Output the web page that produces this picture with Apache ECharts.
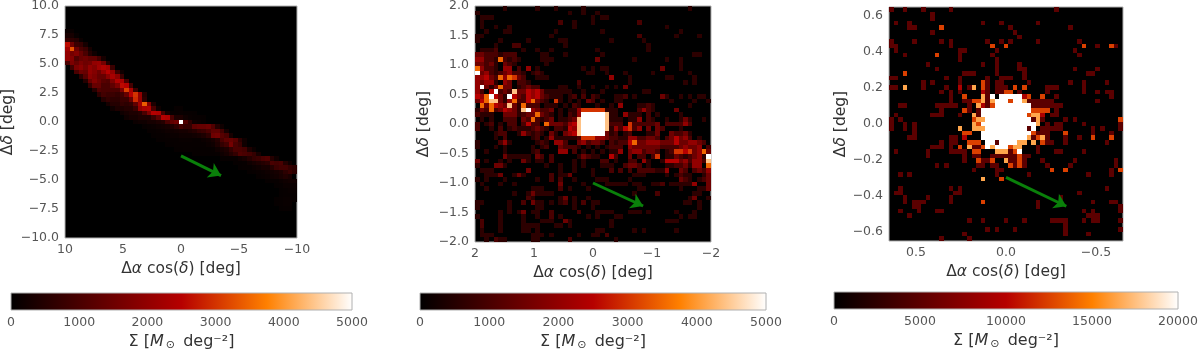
<!DOCTYPE html>
<html>
<head>
<meta charset="utf-8">
<title>Stream surface density</title>
<script src="https://cdn.jsdelivr.net/npm/echarts@6/dist/echarts.min.js"></script>
<style>
html,body{margin:0;padding:0;background:#fff;}
#main{width:1200px;height:351px;}
</style>
</head>
<body>
<div id="main"></div>
<script>
var heatColors = ['#000000','#5b0000','#b60000','#ff8000','#ffffff'];

var binCount = 51;
var spans = [10, 2, 0.65];
var maxValues = [5000, 5000, 20000];

var xTicks1 = [10, 5, 0, -5, -10];
var yTicks1 = [-10, -7.5, -5, -2.5, 0, 2.5, 5, 7.5, 10];
var xTicks2 = [2, 1, 0, -1, -2];
var yTicks2 = [-2, -1.5, -1, -0.5, 0, 0.5, 1, 1.5, 2];
var xTicks3 = [0.5, 0, -0.5];
var yTicks3 = [-0.6, -0.4, -0.2, 0, 0.2, 0.4, 0.6];

var arrow1 = [[0, -2.92], [-3.45, -4.62]];
var arrow2 = [[0, -1], [-0.85, -1.39]];
var arrow3 = [[0, -0.297], [-0.335, -0.457]];

// [row, first column, values along the row...]
var stream1 = [
	[5,0,150,120],
	[6,0,350,300,100],
	[7,0,700,600,500,150],
	[8,0,2600,1500,800,700,300],
	[9,0,2200,3300,1500,1000,800,300],
	[10,0,2000,1600,1800,1400,1000,500,200],
	[11,0,2000,1800,1100,1400,1500,1300,1300,900,300],
	[12,0,1000,1700,1400,1700,1500,1600,2000,2100,1600,500],
	[13,1,900,1700,1900,1600,2000,1800,2200,2400,2200,800],
	[14,2,1000,1500,1400,2000,1800,1500,2000,2500,2000,800,200],
	[15,3,600,1200,1900,1700,1400,1400,1900,2300,1900,800],
	[16,4,500,1400,1800,1500,1200,1100,1700,2400,2300,1000],
	[17,5,700,1400,1400,1000,1000,1300,1700,2600,2500,900],
	[18,6,500,1100,1000,1000,1000,1000,1700,3100,2300,800],
	[19,7,600,900,800,800,700,900,1400,2500,3000,2000,500],
	[20,8,500,700,600,600,800,800,1400,2900,2000,600],
	[21,9,300,500,500,700,600,700,1300,2200,3400,1800,400],
	[22,10,200,400,400,500,500,800,2000,2300,2400,1000,200,0,0,0,100,100],
	[23,12,200,300,400,400,500,1000,1700,2500,2400,1000,300,100,100,120,100,100,80],
	[24,13,200,300,300,400,400,400,800,1300,2500,2400,1000,400,400,200,120,100,100,80],
	[25,15,150,200,200,300,300,400,500,1000,1300,1500,5000,1100,600,200,150,100],
	[26,17,100,120,150,200,250,300,400,600,900,700,700,1300,1400,1400,1500,1100,500,200],
	[27,18,100,100,120,150,200,200,250,300,300,400,500,700,800,1000,1300,1300,900,300],
	[28,19,80,100,100,120,150,150,200,200,200,250,300,400,600,1500,1600,1200,1000,300],
	[29,20,80,80,100,100,100,120,120,120,100,100,150,200,300,500,1000,1300,1400,1200,600,200],
	[30,22,80,80,100,100,100,100,100,100,100,150,200,400,700,900,1600,1000,800,200],
	[31,24,80,80,100,100,80,80,80,80,100,200,300,400,700,1000,1000,900,400,150],
	[32,28,80,80,80,80,80,100,200,300,500,700,1100,1000,900,700,300],
	[33,34,100,100,100,100,200,300,500,700,800,1000,1100,500,200],
	[34,37,80,80,100,200,300,400,500,600,1000,900,1000,500,200],
	[35,38,80,100,100,150,200,300,300,500,800,900,900,700,600],
	[36,40,80,100,120,150,200,250,300,400,600,800,600],
	[37,42,100,120,150,200,250,350,450,350],
	[38,44,80,100,100,150,200,250,250],
	[39,46,80,100,150,150,150],
	[40,47,80,100,120,120],
	[41,47,80,100,100,100],
	[42,46,80,100,120,120,100],
	[43,46,80,100,130,120],
	[44,47,80,100,100]
];

// panel 2, one list per row: column, level, column, level...
var levels2 = [0, 600, 1000, 1500, 2000, 2500, 3000, 3500, 4400, 4500, 5000];
var rows2 = [
	[6,1,13,1,17,1,23,1,46,1],
	[0,1,20,1,23,1,26,1],
	[1,1,2,1,3,1,25,1,27,1,28,1],
	[1,1,18,2,21,1,25,1,35,2],
	[1,1,4,1,7,1,21,1,41,1],
	[2,1,6,1,7,1,17,1,27,1,44,1],
	[0,1,1,1,16,1,35,2,43,1,48,1],
	[0,1,5,1,11,1,18,1,19,1,29,1,36,1],
	[4,1,8,2,9,2,19,1,37,1],
	[1,1,2,1,3,1,4,2,10,1,13,1,16,1,26,1,37,1],
	[0,3,1,3,2,2,3,2,4,2,5,1,6,2,7,2,8,2,14,1,15,1,19,1,27,1,47,1,48,1],
	[0,4,1,4,2,2,3,2,4,1,5,7,6,2,7,1,8,2,9,1,14,1,15,1,16,1,26,3,34,1,41,1,44,1],
	[0,3,1,3,2,2,3,3,4,1,6,3,7,2,8,1,15,1,44,1],
	[0,7,1,4,2,2,3,2,4,1,6,4,7,4,9,2,11,4,13,1,23,1,25,1,27,1,28,1,40,3,44,1],
	[0,10,1,3,2,4,3,2,4,1,5,2,6,3,7,4,8,2,9,2,10,1,12,1,13,2,14,1,24,1,25,1,28,1,32,1,38,1,46,1],
	[0,4,1,4,2,5,3,3,4,2,5,7,6,4,7,7,8,6,9,3,10,2,13,1,14,1,15,1,29,4,33,1,41,1,42,1,47,1],
	[0,4,1,3,2,4,3,4,4,1,6,4,7,3,9,2,10,2,11,1,22,2,33,1,45,1,47,1],
	[0,4,1,10,2,3,3,1,4,3,5,7,6,3,7,3,9,1,10,2,11,3,12,2,13,2,18,1,19,1,22,1,25,1,28,1,30,1,32,3],
	[0,4,1,2,3,5,4,10,5,2,6,3,7,2,8,8,9,3,10,3,11,5,12,4,13,5,14,3,15,1,16,1,17,1,18,1,19,1,20,1,23,1,27,1,36,1,37,1],
	[0,5,1,4,2,7,3,10,4,5,5,3,6,1,7,10,8,5,9,3,10,2,11,5,12,4,13,5,14,3,15,2,16,1,17,1,18,1,20,1,21,2,23,2,25,2,26,1,30,1,31,1,32,2,34,1,40,3,41,1,44,1,46,1,48,1,49,1],
	[0,3,1,5,2,7,3,8,4,8,5,3,6,1,7,4,8,7,9,2,10,2,11,5,12,7,13,3,14,2,15,1,17,6,18,1,20,1,22,1,24,3,25,2,27,1,30,1,31,1,42,1,47,1,50,1],
	[1,7,2,3,3,7,4,5,5,4,6,3,7,8,8,3,9,1,10,7,11,2,12,2,13,2,15,1,16,1,17,1,19,1,21,2,22,1,26,1,29,1,31,4,35,1,36,1,37,2,38,1,46,1],
	[0,1,1,3,2,2,3,7,4,2,5,3,6,5,7,4,8,3,9,1,10,8,11,10,12,4,13,3,14,2,15,2,16,3,18,1,20,1,21,1,22,4,23,6,24,6,25,6,26,6,27,6,28,1,29,1,30,1,35,2,36,4,37,2,38,1,43,3],
	[0,2,1,1,2,1,3,1,6,3,7,3,8,3,9,1,10,2,11,3,12,3,13,7,14,3,15,2,16,1,18,1,20,2,21,1,22,4,23,10,24,10,25,10,26,10,27,10,28,8,29,1,30,1,32,4,33,1,34,1,35,1,37,2,39,1,44,1],
	[1,1,3,1,6,2,7,2,8,2,10,3,11,2,12,7,13,2,14,1,15,2,16,3,18,1,19,1,20,2,21,3,22,8,23,10,24,10,25,10,26,10,27,10,28,8,29,1,30,1,31,1,33,1,34,1,35,4,37,2,38,1,41,1,44,1,45,3,46,1,49,1],
	[0,2,2,1,3,2,5,1,7,2,8,2,10,2,11,5,12,2,13,2,15,7,16,3,17,3,18,3,19,2,20,4,21,5,22,8,23,10,24,10,25,10,26,10,27,10,28,8,29,2,30,2,31,2,33,6,34,2,35,2,36,2,37,2,38,2,39,3,41,2,42,2,43,2,44,2,45,4,46,2],
	[0,2,3,1,5,2,7,1,8,2,9,1,10,1,11,1,12,2,13,3,14,2,15,1,17,2,18,2,19,1,20,5,21,4,22,8,23,10,24,10,25,10,26,10,27,10,28,8,29,1,30,4,31,2,32,5,33,6,34,2,35,4,37,3,39,3,40,2,44,1],
	[4,1,5,2,6,2,9,1,10,4,11,2,12,1,13,2,14,1,16,3,17,1,19,3,20,4,21,5,22,8,23,10,24,10,25,10,26,10,27,10,28,3,29,1,30,2,32,1,33,2,37,1,38,1,39,3,42,3,43,2,44,2,45,3,46,1],
	[4,1,6,2,12,1,13,2,15,1,16,4,17,1,18,1,19,1,20,1,21,1,22,2,23,6,24,6,25,6,26,4,27,4,28,3,29,2,30,2,31,1,32,1,33,4,34,4,35,2,36,2,37,3,38,3,39,2,41,2,42,3,43,5,44,3,45,4,46,2,48,1],
	[0,1,5,2,6,4,7,1,13,1,14,2,15,1,17,4,18,4,19,2,22,3,23,4,24,2,25,3,26,3,27,2,29,2,30,1,31,2,32,2,33,5,34,7,35,3,36,3,37,4,38,4,39,4,40,3,41,3,42,3,43,5,44,3,45,3,46,4,47,4,48,3,49,2],
	[0,1,4,1,6,1,12,1,14,1,15,2,18,3,19,2,20,2,21,2,22,1,24,1,26,1,28,1,29,2,30,2,31,2,33,4,34,3,35,3,36,3,37,3,38,3,39,3,40,2,41,2,42,2,43,2,44,3,45,4,46,3,47,3,48,4,50,2],
	[2,1,6,1,12,1,13,2,18,4,19,4,21,2,23,1,25,1,27,1,29,1,30,1,31,4,33,3,34,4,35,4,36,2,37,3,38,3,39,2,41,1,42,2,43,6,44,6,45,5,46,6,47,3,48,4,49,7,50,3],
	[6,3,7,1,8,1,9,1,10,1,11,1,13,3,14,2,16,2,22,1,23,3,24,2,25,1,26,1,29,5,30,2,33,3,35,2,36,2,38,2,39,6,41,1,42,1,43,3,44,2,45,1,46,2,47,3,48,4,49,1,50,10],
	[0,3,2,1,5,1,7,1,10,3,11,1,13,1,14,1,16,2,21,1,23,1,27,2,28,2,30,1,33,2,34,2,36,4,37,1,40,1,41,5,42,5,43,5,44,3,45,4,46,2,47,4,48,4,49,2,50,8],
	[0,1,4,3,5,3,6,1,15,1,18,1,21,1,23,1,27,1,28,1,29,1,32,2,33,3,34,3,35,2,37,1,41,1,42,1,43,2,44,2,45,3,46,1,47,4,48,4,50,7],
	[1,1,2,1,3,1,11,3,18,1,21,1,25,1,29,2,31,2,33,2,35,2,36,2,37,2,38,2,39,1,40,1,41,4,44,3,45,2,47,2,48,3,49,2,50,4],
	[2,1,3,1,4,1,5,3,8,1,9,3,10,1,16,2,18,1,19,1,20,3,25,1,34,1,35,1,36,1,41,1,43,1,44,2,45,1,46,1,49,1,50,3],
	[0,1,2,1,6,1,13,1,16,2,18,2,21,1,26,1,27,1,28,1,33,1,44,3,45,2,46,1,48,1,49,2,50,3],
	[1,1,5,1,8,1,18,3,23,1,28,1,29,1,30,1,31,1,32,1,34,1,35,1,38,1,39,1,40,2,42,1,43,1,44,1,45,1,46,1,47,4,50,3],
	[2,1,12,1,13,1,14,1,18,2,20,1,24,1,35,1,36,1,44,1,48,1,49,1,50,3],
	[8,1,11,1,12,3,13,1,14,1,15,1,16,1,34,1,39,2,47,1,48,1],
	[11,2,12,1,18,1,19,3,21,1,24,1,46,1,47,3,50,1],
	[0,1,1,1,7,1,10,2,12,3,13,1,14,1,16,1,18,1,19,2,21,1,23,2,25,1,26,1,45,1,46,1,48,1],
	[0,1,7,1,13,1,14,1,21,1,25,1,48,1],
	[5,1,7,1,9,1,10,3,12,1,13,1,16,2,22,2,26,1,27,1,28,1,29,1,33,1,34,1,35,1,37,1,43,1,47,1],
	[0,1,5,1,10,1,13,1,16,2,18,1,24,1,26,1,30,1,31,1,44,1,46,1,47,1],
	[1,2,5,1,10,1,14,1,15,1,16,1,19,3,20,1,29,1,41,1,42,1,43,1],
	[1,2,5,1,10,1,11,1,12,1,13,1,17,1,18,1,20,1,29,1],
	[1,1,5,1,10,1,11,1,13,1,26,1,27,1,34,1,36,1,43,1],
	[1,1,2,1,3,1,12,1,13,1,14,1,16,1,22,1,25,1,26,1,28,2],
	[2,1,4,2,5,1,6,1,12,1,13,1,20,2,30,1]
];

// panel 3, same layout, levels run from one dark cell up to the white core
var levels3 = [0, 5000, 9500, 12500, 16500, 20000];
var rows3 = [
	[0,1,3,1,7,1,13,1,36,1],
	[9,1],
	[9,1],
	[1,1,4,1,20,1,24,1,32,1],
	[4,1,5,1,11,3,26,1,39,1],
	[9,1,27,1],
	[28,1],
	[0,1,5,1,11,1,13,1,21,1,24,1,26,1,32,1,41,1],
	[0,1,1,1,13,1,22,3,25,3,42,3,45,1,48,3,49,1],
	[1,1,15,1,16,1,23,1,40,1],
	[3,1,10,3,15,1,22,1,41,1],
	[15,1,23,1],
	[8,1,20,1,23,1,28,1],
	[10,1,23,1,28,1,29,1,40,1,45,1],
	[3,3,16,1,17,1,18,1,23,1,29,1,43,1,44,1],
	[0,1,1,1,12,1,15,1,21,1,24,1,25,1,26,1,29,1],
	[7,1,9,1,15,1,20,3,21,1,23,1,24,1,30,1,39,1,42,1,47,1],
	[0,1,1,1,3,4,7,1,12,1,15,2,17,1,18,4,20,3,21,1,23,1,24,1,25,1,27,3,29,3,34,1,35,1,36,1,42,1],
	[11,1,13,1,15,1,20,2,21,1,23,1,24,1,25,3,26,3,28,1,34,1,42,1,45,1,47,1,48,1],
	[13,1,16,3,20,4,21,1,22,5,24,5,25,5,26,5,27,5,28,5,29,2,30,3,33,3,36,1,48,1],
	[13,1,16,1,17,1,18,3,19,3,20,4,21,1,22,4,23,5,24,5,25,5,26,3,27,5,28,5,29,4,30,1,31,1,32,1,33,1,34,1,35,1,45,1],
	[2,1,3,1,10,1,11,1,12,1,13,1,14,1,17,1,19,4,20,2,21,1,22,3,23,5,24,5,25,5,26,5,27,5,28,5,29,5,30,5,31,1,32,1,33,1,34,1,35,1,36,1,37,1],
	[11,1,16,3,17,1,19,1,20,5,21,5,22,5,23,5,24,5,25,5,26,5,27,5,28,5,29,5,30,5,31,3,32,3,33,3,34,3,36,1],
	[1,1,9,1,10,1,11,1,15,1,18,4,19,1,20,5,21,5,22,5,23,5,24,5,25,5,26,5,27,5,28,5,29,5,30,3,31,4,32,4,33,2,35,1,36,1],
	[0,1,2,1,18,3,19,4,20,4,21,5,22,5,23,5,24,5,25,5,26,5,27,5,28,5,29,5,30,5,31,1,32,4,33,1,38,1,40,1,50,3],
	[0,1,3,1,5,1,18,4,19,3,20,5,21,5,22,5,23,5,24,5,25,5,26,5,27,5,28,5,29,5,30,5,31,5,32,4,34,1,36,1,37,1,42,1,50,1],
	[0,1,3,1,5,1,15,4,18,4,19,4,20,4,21,5,22,5,23,5,24,5,25,5,26,5,27,5,28,5,29,5,30,1,31,5,33,1,34,1,35,1,36,1,37,1,44,1,46,1,50,1],
	[5,1,16,3,17,3,20,5,21,5,22,5,23,5,24,5,25,5,26,5,27,5,28,5,29,5,30,5,31,3,32,1,33,1,34,1,38,3,44,1,48,1],
	[4,1,5,1,13,1,14,1,16,2,20,5,21,5,22,5,23,5,24,5,25,5,26,5,27,5,28,5,29,5,30,4,31,1,32,3,33,4,34,1,38,1,41,1,44,3,48,3],
	[11,1,13,1,14,1,17,3,18,3,19,3,21,5,22,5,23,1,24,5,25,5,26,5,27,5,28,4,29,4,31,4,33,3,34,1,35,1,38,1,47,1],
	[9,1,10,1,11,1,13,1,15,3,17,4,18,1,19,1,20,3,21,5,22,4,23,5,24,5,25,5,26,3,27,4,28,4,32,1],
	[1,1,8,1,13,1,14,1,15,1,16,1,18,3,19,3,23,4,24,4,25,4,26,1,27,3,28,5,32,1,36,1,37,1,42,1],
	[8,1,16,1,18,1,19,1,22,1,23,1,24,1,25,1,26,1,27,1,28,3,29,1,30,1],
	[16,1,19,3,20,1,21,1,22,3,25,4,26,1,27,1,28,3,29,1,33,1,40,1,49,1],
	[10,1,12,1,19,1,20,1,22,1,23,1,26,3,27,1,28,3,29,1,34,1,39,1,49,1],
	[18,1,23,1,24,1,35,3,38,3,48,1,50,3],
	[2,1,4,1,23,1,30,1,43,1,48,1],
	[20,4,24,3],
	[],
	[2,1,13,1,15,1,47,1],
	[1,1,2,1,14,1,15,1,41,1],
	[3,1,8,1,13,1,37,1],
	[3,1,5,1,6,1,7,1,13,1,20,3,32,1,44,1,48,1,49,1],
	[5,1,6,1,32,1,50,1],
	[2,1,6,1,10,1,11,1,42,1,44,1,50,1],
	[4,1,43,1,44,1,45,1],
	[17,1,20,1,25,1,29,1,35,1,36,1,37,1,38,1,42,1,44,1,45,1,50,1],
	[38,1],
	[21,1,23,1,27,1,38,1,50,1],
	[16,1,38,1,43,1],
	[11,1,17,1]
];

var chart = echarts.init(document.getElementById('main'));

// turn row/column bins into axis values
function binCenter(index, span){
	var width = 2 * span / binCount;
	return span - (index + 0.5) * width;
}
function streamCells(list, span){
	var out = [];
	for(var i = 0; i < list.length; i++){
		for(var j = 2; j < list[i].length; j++){
			if(list[i][j] > 0)
				out.push([binCenter(list[i][1] + j - 2, span), binCenter(list[i][0], span), list[i][j]]);
		}
	}
	return out;
}
function levelCells(rows, levels, span){
	var out = [];
	for(var r = 0; r < rows.length; r++){
		for(var k = 0; k < rows[r].length; k += 2){
			out.push([binCenter(rows[r][k], span), binCenter(r, span), levels[rows[r][k + 1]]]);
		}
	}
	return out;
}

function renderCell(span){
	var half = span / binCount;
	return function(params, api){
		var p0 = api.coord([api.value(0) + half, api.value(1) + half]);
		var p1 = api.coord([api.value(0) - half, api.value(1) - half]);
		var x0 = Math.round(p0[0]), y0 = Math.round(p0[1]);
		return {
			type: 'rect',
			shape: {x: x0, y: y0, width: Math.round(p1[0]) - x0, height: Math.round(p1[1]) - y0},
			style: {fill: api.visual('color')}
		};
	};
}

function tickText(decimals){
	return function(v){
		return v.toFixed(decimals).replace('-', '\u2212');
	};
}

var mainGrids = [
	{left: 65, top: 6, width: 232, height: 232},
	{left: 475, top: 6, width: 236, height: 236},
	{left: 889, top: 7, width: 234, height: 234}
];
var barGrids = [
	{left: 11, top: 293, width: 341, height: 17},
	{left: 420, top: 293, width: 346, height: 17},
	{left: 834, top: 292, width: 344, height: 17}
];
var barTickSteps = [1000, 1000, 5000];
var yNameGaps = [49, 43, 40];

var xTicks = [xTicks1, xTicks2, xTicks3];
var yTicks = [yTicks1, yTicks2, yTicks3];
var xDecimals = [0, 0, 1];
var yDecimals = [1, 1, 1];
var arrows = [arrow1, arrow2, arrow3];
var cells = [
	streamCells(stream1, spans[0]),
	levelCells(rows2, levels2, spans[1]),
	levelCells(rows3, levels3, spans[2])
];

var mathRich = {
	i: {fontFamily: 'DejaVu Sans', fontStyle: 'italic', fontSize: 15.5, color: '#333'},
	m: {fontFamily: 'DejaVu Sans', fontStyle: 'italic', fontSize: 16, color: '#333'},
	s: {fontFamily: 'DejaVu Sans', fontSize: 11, color: '#333', padding: [7, 3, 0, 2]}
};

var option = {
	animation: false,
	backgroundColor: '#fff',
	textStyle: {fontFamily: 'DejaVu Sans'},
	grid: [],
	xAxis: [],
	yAxis: [],
	visualMap: [],
	series: []
};

var gradientStops = [];
for(var g = 0; g < heatColors.length; g++){
	gradientStops.push({offset: g / (heatColors.length - 1), color: heatColors[g]});
}

for(var n = 0; n < 3; n++){
	option.grid.push({
		show: true, left: mainGrids[n].left, top: mainGrids[n].top,
		width: mainGrids[n].width, height: mainGrids[n].height,
		outerBoundsMode: 'none',
		backgroundColor: '#000', borderColor: '#b0b0b0', borderWidth: 1
	});
	option.xAxis.push({
		type: 'value', gridIndex: n, min: -spans[n], max: spans[n], inverse: true,
		splitLine: {show: false}, axisLine: {show: false}, axisTick: {show: false},
		axisLabel: {customValues: xTicks[n], color: '#555', fontSize: 12.5, margin: 5, formatter: tickText(xDecimals[n])},
		name: '\u0394{i|\u03b1} cos({i|\u03b4}) [deg]', nameLocation: 'middle', nameGap: 20,
		nameTextStyle: {color: '#333', fontSize: 15.5, rich: mathRich}
	});
	option.yAxis.push({
		type: 'value', gridIndex: n, min: -spans[n], max: spans[n],
		splitLine: {show: false}, axisLine: {show: false}, axisTick: {show: false},
		axisLabel: {customValues: yTicks[n], color: '#555', fontSize: 12.5, margin: 6, formatter: tickText(yDecimals[n])},
		name: '\u0394{i|\u03b4} [deg]', nameLocation: 'middle', nameGap: yNameGaps[n],
		nameTextStyle: {color: '#333', fontSize: 15.5, rich: mathRich}
	});
	option.visualMap.push({
		type: 'continuous', show: false, seriesIndex: n, dimension: 2,
		min: 0, max: maxValues[n], inRange: {color: heatColors}
	});
	option.series.push({
		type: 'custom', xAxisIndex: n, yAxisIndex: n, silent: true,
		renderItem: renderCell(spans[n]), data: cells[n], clip: true,
		markLine: {
			silent: true, animation: false, symbol: ['none', 'arrow'], symbolSize: 12,
			label: {show: false}, lineStyle: {color: '#0a800a', width: 3, type: 'solid'},
			data: [[{coord: arrows[n][0]}, {coord: arrows[n][1]}]]
		}
	});
}

// colorbars: an empty grid with the gradient behind a value axis
for(var b = 0; b < 3; b++){
	option.grid.push({
		show: true, left: barGrids[b].left, top: barGrids[b].top,
		width: barGrids[b].width, height: barGrids[b].height,
		outerBoundsMode: 'none',
		borderColor: '#b0b0b0', borderWidth: 1,
		backgroundColor: new echarts.graphic.LinearGradient(0, 0, 1, 0, gradientStops)
	});
	option.xAxis.push({
		type: 'value', gridIndex: 3 + b, min: 0, max: maxValues[b], interval: barTickSteps[b],
		splitLine: {show: false}, axisLine: {show: false}, axisTick: {show: false},
		axisLabel: {color: '#555', fontSize: 12.5, margin: 6, formatter: function(v){ return String(v); }},
		name: '\u03a3 [{m|M}{s|\u2299} deg\u207b\u00b2]', nameLocation: 'middle', nameGap: 23,
		nameTextStyle: {color: '#333', fontSize: 16, rich: mathRich}
	});
	option.yAxis.push({
		type: 'value', gridIndex: 3 + b, min: 0, max: 1, show: false
	});
}

chart.setOption(option);
</script>
</body>
</html>
